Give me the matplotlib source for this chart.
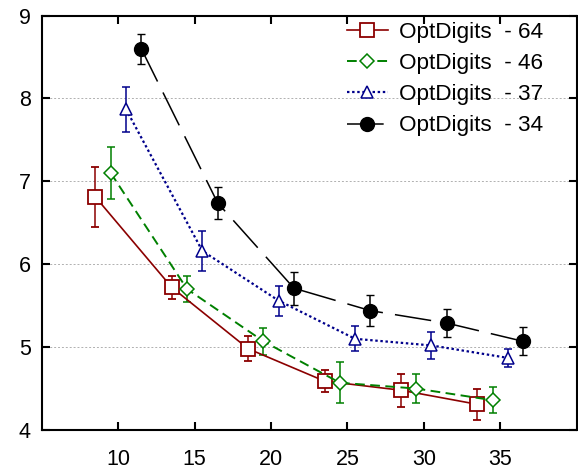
import matplotlib
matplotlib.use("Agg")
import matplotlib.pyplot as plt
from matplotlib.lines import Line2D
import numpy as np

plt.rcParams['font.family'] = ['Liberation Sans', 'DejaVu Sans']

# Subset sizes (x axis) and per-series results with error bar half-widths
sizes = [10, 15, 20, 25, 30, 35]
labels = ["OptDigits  - 64", "OptDigits  - 46", "OptDigits  - 37", "OptDigits  - 34"]

opt64 = [6.81, 5.72, 4.98, 4.59, 4.48, 4.31]
opt64_err = [0.36, 0.14, 0.15, 0.13, 0.20, 0.19]

opt46 = [7.10, 5.70, 5.07, 4.57, 4.50, 4.36]
opt46_err = [0.31, 0.16, 0.16, 0.25, 0.18, 0.16]

opt37 = [7.87, 6.16, 5.56, 5.10, 5.02, 4.87]
opt37_err = [0.27, 0.24, 0.18, 0.15, 0.16, 0.11]

opt34 = [8.60, 6.74, 5.71, 5.44, 5.29, 5.07]
opt34_err = [0.18, 0.19, 0.20, 0.19, 0.17, 0.17]

series = [
    (opt64, opt64_err, -1.5, dict(color="#8B0000", ls="-", lw=1.2, marker="s", ms=10, mfc="white", mew=1.3)),
    (opt46, opt46_err, -0.5, dict(color="#008000", ls=(0, (5, 2.8)), lw=1.4, marker="D", ms=7, mfc="white", mew=1.1)),
    (opt37, opt37_err, 0.5, dict(color="#00008B", ls=(0, (1.1, 1.2)), lw=1.6, marker="^", ms=8.5, mfc="white", mew=1.1)),
    (opt34, opt34_err, 1.5, dict(color="black", ls=(0, (24, 8)), lw=1.1, marker="o", ms=10, mfc="black", mew=1.0)),
]

fig = plt.figure(figsize=(5.78, 4.70), dpi=100)
ax = fig.add_axes([42 / 578, 40 / 470, 534.5 / 578, 414.5 / 470])

handles = []
for (vals, errs, off, style), lab in zip(series, labels):
    xs = np.array(sizes) + off
    ax.errorbar(xs, vals, yerr=errs, capsize=3, elinewidth=1.1, capthick=1.1,
                zorder=3, **style)
    handles.append(Line2D([], [], label=lab, **style))

ax.set_xlim(5, 40)
ax.set_ylim(4, 9)
ax.set_xticks([10, 15, 20, 25, 30, 35])
ax.set_yticks([4, 5, 6, 7, 8, 9])
ax.yaxis.grid(True, ls=(0, (2, 2)), color="#b0b0b0", lw=0.7)
ax.set_axisbelow(True)

ax.tick_params(direction="in", top=True, right=True, length=6, width=1.5,
               labelsize=15.5)
ax.tick_params(axis="x", pad=14)
ax.tick_params(axis="y", pad=8)
for sp in ax.spines.values():
    sp.set_linewidth(1.5)

ax.legend(handles=handles, loc="upper left", bbox_to_anchor=(347 / 578, 1 - 22 / 470),
          bbox_transform=fig.transFigure, frameon=False, fontsize=16.2,
          handlelength=1.8, handletextpad=0.5, labelspacing=0.45,
          borderaxespad=0, borderpad=0)

fig.savefig("out.png", dpi=100)
